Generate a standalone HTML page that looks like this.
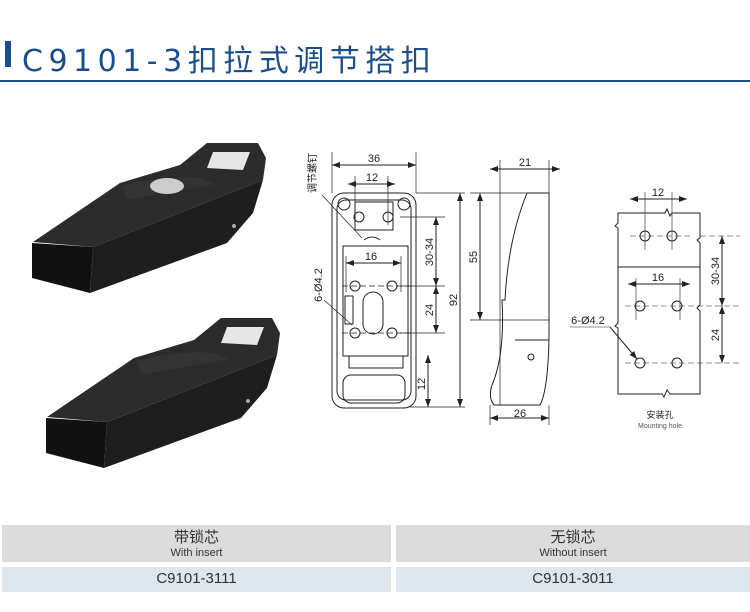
<!DOCTYPE html>
<html><head><meta charset="utf-8"><style>
body{margin:0;width:750px;height:612px;background:#fff;position:relative;overflow:hidden;font-family:"Liberation Sans","Noto Sans CJK SC",sans-serif}
.t{position:absolute;left:22px;top:36px;font-size:30px;color:#1b4e8d;letter-spacing:5.5px;font-family:"DejaVu Sans","Noto Sans CJK SC",sans-serif}
.bar{position:absolute;left:5px;top:41px;width:6px;height:26px;background:#1b4e8d}
.hr{position:absolute;left:0;top:80px;width:750px;height:2px;background:#1b4e8d}
.c{position:absolute;text-align:center;color:#333}
</style></head><body>
<div class="bar"></div><div class="t">C9101-3扣拉式调节搭扣</div><div class="hr"></div>
<svg width="750" height="612" style="position:absolute;left:0;top:0" font-family="Liberation Sans, Noto Sans CJK SC, sans-serif">
<defs><marker id="a" markerWidth="8" markerHeight="6" refX="8" refY="3" orient="auto"><path d="M0,0L8,3L0,6z" fill="#222"/></marker>
<marker id="b" markerWidth="8" markerHeight="6" refX="0" refY="3" orient="auto"><path d="M8,0L0,3L8,6z" fill="#222"/></marker>
<g id="prod">
<polygon points="32,243 93,247 90,293 32,278" fill="#111"/>
<polygon points="93,247 263,180 253,213 227,243 90,293" fill="#1e1e1e"/>
<polygon points="33,242 120,183 180,165 207,143 258,143 266,158 263,180 93,247" fill="#2b2b2b"/>
<polygon points="213,152 250,152 243,170 207,168" fill="#e6e6e6"/>
<path d="M122,186 Q165,175 200,178 L215,184 Q170,192 128,200z" fill="#333"/>
<circle cx="234" cy="226" r="2" fill="#aaa"/>
</g></defs>
<use href="#prod"/>
<g transform="translate(14,175)"><use href="#prod"/></g>
<ellipse cx="167" cy="186" rx="17" ry="8" fill="#ccc"/>
<g fill="none" stroke="#222" stroke-width="1">
<rect x="332" y="193" width="84" height="215" rx="12"/>
<rect x="337" y="200" width="74" height="200" rx="9"/>
<circle cx="344" cy="204" r="6"/><circle cx="404" cy="204" r="6"/>
<rect x="355" y="202" width="38" height="28"/>
<circle cx="359" cy="217" r="5"/><circle cx="388" cy="217" r="5"/>
<rect x="343" y="246" width="65" height="110"/>
<circle cx="355" cy="286" r="5"/><circle cx="392" cy="286" r="5"/><circle cx="355" cy="333" r="5"/><circle cx="392" cy="333" r="5"/>
<rect x="363" y="292" width="20" height="42" rx="10"/>
<rect x="345" y="296" width="8" height="28"/>
<rect x="349" y="356" width="54" height="12"/>
<rect x="343" y="375" width="62" height="28" rx="8"/>
<path d="M364,240 Q372,234 380,240" />
<g stroke-width="0.7">
<line x1="332" y1="152" x2="332" y2="193"/><line x1="416" y1="152" x2="416" y2="193"/>
<line x1="355" y1="176" x2="355" y2="225"/><line x1="388" y1="176" x2="388" y2="225"/>
<line x1="346" y1="256" x2="346" y2="292"/><line x1="401" y1="256" x2="401" y2="292"/>
<line x1="400" y1="217" x2="445" y2="217"/><line x1="400" y1="286" x2="445" y2="286"/><line x1="400" y1="333" x2="445" y2="333"/>
<line x1="416" y1="193" x2="465" y2="193"/><line x1="410" y1="407" x2="465" y2="407"/>
<line x1="342" y1="286" x2="410" y2="286" stroke-dasharray="6,3"/><line x1="342" y1="333" x2="410" y2="333" stroke-dasharray="6,3"/>
<line x1="322" y1="195" x2="362" y2="238"/>
<line x1="324" y1="300" x2="352" y2="325"/>
</g>
<line x1="332" y1="165" x2="416" y2="165" marker-start="url(#b)" marker-end="url(#a)"/>
<line x1="348" y1="184" x2="395" y2="184" marker-start="url(#b)" marker-end="url(#a)"/>
<line x1="346" y1="263" x2="401" y2="263" marker-start="url(#b)" marker-end="url(#a)"/>
<line x1="436" y1="217" x2="436" y2="286" marker-start="url(#b)" marker-end="url(#a)"/>
<line x1="436" y1="286" x2="436" y2="333" marker-start="url(#b)" marker-end="url(#a)"/>
<line x1="460" y1="193" x2="460" y2="407" marker-start="url(#b)" marker-end="url(#a)"/>
<line x1="428" y1="355" x2="428" y2="407" marker-start="url(#b)" marker-end="url(#a)"/>
<path d="M527,193 L549,193 L549,338 Q548,390 540,405 L494,405 Q488,398 492,385 Q505,355 502,300 L505,300 Q508,240 527,193z"/>
<line x1="549" y1="200" x2="549" y2="338"/><line x1="515" y1="340" x2="549" y2="340"/><circle cx="531" cy="357" r="3"/>
<g stroke-width="0.7"><line x1="500" y1="160" x2="500" y2="405"/><line x1="549" y1="160" x2="549" y2="193"/>
<line x1="470" y1="193" x2="527" y2="193"/><line x1="470" y1="320" x2="549" y2="320"/>
<line x1="490" y1="405" x2="490" y2="425"/><line x1="549" y1="405" x2="549" y2="425"/></g>
<line x1="490" y1="169" x2="560" y2="169" marker-start="url(#b)" marker-end="url(#a)"/>
<line x1="480" y1="193" x2="480" y2="320" marker-start="url(#b)" marker-end="url(#a)"/>
<line x1="490" y1="418" x2="549" y2="418" marker-start="url(#b)" marker-end="url(#a)"/>
<path d="M618,213 L665,213 L667,209 L670,216 L672,213 L700,213 L700,238 L697,240 L700,243 L700,305 L697,308 L700,311 L700,394 L670,394 L667,390 L664,397 L662,394 L618,394 L618,328 L615,326 L618,323 L618,228 L615,226 L618,223z"/>
<line x1="618" y1="267" x2="700" y2="267"/>
<circle cx="645" cy="236" r="5"/><circle cx="672" cy="236" r="5"/><circle cx="640" cy="306" r="5"/><circle cx="677" cy="306" r="5"/><circle cx="640" cy="363" r="5"/><circle cx="677" cy="363" r="5"/>
<g stroke-width="0.6" stroke-dasharray="6,3"><line x1="630" y1="236" x2="690" y2="236"/><line x1="625" y1="306" x2="740" y2="306"/><line x1="625" y1="363" x2="740" y2="363"/><line x1="700" y1="236" x2="740" y2="236"/></g>
<g stroke-width="0.6"><line x1="645" y1="192" x2="645" y2="250"/><line x1="672" y1="192" x2="672" y2="250"/><line x1="636" y1="278" x2="636" y2="320"/><line x1="680" y1="278" x2="680" y2="320"/><line x1="570" y1="327" x2="610" y2="327"/></g>
<line x1="630" y1="199" x2="687" y2="199" marker-start="url(#b)" marker-end="url(#a)"/>
<line x1="628" y1="284" x2="690" y2="284" marker-start="url(#b)" marker-end="url(#a)"/>
<line x1="722" y1="236" x2="722" y2="306" marker-start="url(#b)" marker-end="url(#a)"/>
<line x1="722" y1="306" x2="722" y2="363" marker-start="url(#b)" marker-end="url(#a)"/>
<line x1="610" y1="327" x2="637" y2="359" marker-end="url(#a)"/>
</g>
<g font-size="11" fill="#222" text-anchor="middle">
<text x="374" y="162">36</text><text x="372" y="181">12</text><text x="371" y="260">16</text>
<text x="525" y="166">21</text><text x="520" y="417">26</text>
<text x="658" y="196">12</text><text x="658" y="281">16</text>
<text transform="translate(433,252) rotate(-90)">30-34</text>
<text transform="translate(433,310) rotate(-90)">24</text>
<text transform="translate(457,300) rotate(-90)">92</text>
<text transform="translate(425,384) rotate(-90)">12</text>
<text transform="translate(477,257) rotate(-90)">55</text>
<text transform="translate(719,271) rotate(-90)">30-34</text>
<text transform="translate(719,335) rotate(-90)">24</text>
<text transform="translate(322,285) rotate(-90)">6-Ø4.2</text>
<text transform="translate(316,173) rotate(-90)" font-size="10">调节螺钉</text>
<text x="588" y="324">6-Ø4.2</text>
<text x="660" y="418" font-size="9">安装孔</text>
<text x="660" y="428" font-size="7" fill="#555">Mounting hole</text>
</g>
</svg>
<div style="position:absolute;left:2px;top:525px;width:389px;height:37px;background:#dcdcdc"></div>
<div style="position:absolute;left:396px;top:525px;width:354px;height:37px;background:#dcdcdc"></div>
<div style="position:absolute;left:2px;top:567px;width:389px;height:25px;background:#dfe7ee"></div>
<div style="position:absolute;left:396px;top:567px;width:354px;height:25px;background:#dfe7ee"></div>
<div class="c" style="left:2px;width:389px;top:526px;font-size:15px">带锁芯</div>
<div class="c" style="left:2px;width:389px;top:547px;font-size:11px">With insert</div>
<div class="c" style="left:396px;width:354px;top:526px;font-size:15px">无锁芯</div>
<div class="c" style="left:396px;width:354px;top:547px;font-size:11px">Without insert</div>
<div class="c" style="left:2px;width:389px;top:570px;font-size:15px">C9101-3111</div>
<div class="c" style="left:396px;width:354px;top:570px;font-size:15px">C9101-3011</div>
</body></html>
